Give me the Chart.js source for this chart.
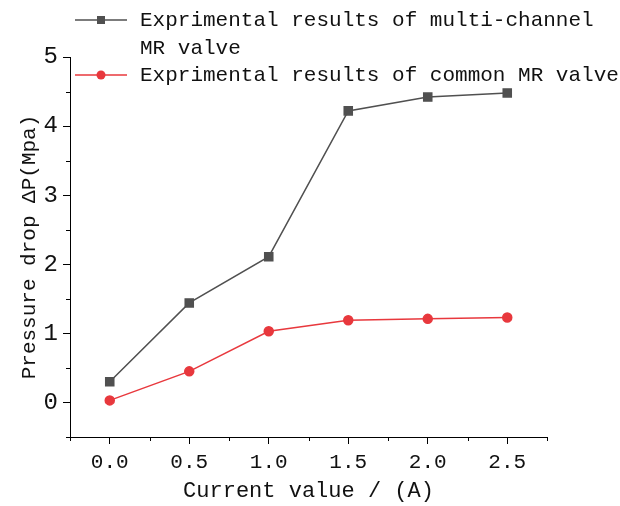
<!DOCTYPE html>
<html lang="en">
<head>
    <meta charset="UTF-8">
    <title>Pressure drop vs current</title>
    <script src="https://cdn.jsdelivr.net/npm/chart.js"></script>
    <style>
        body {
            margin: 0;
            padding: 0;
            background-color: #fff;
        }
        #wrap {
            width: 620px;
            height: 506px;
        }
    </style>
</head>
<body>
    <div id="wrap">
        <canvas id="pressure-chart" width="620" height="506"></canvas>
    </div>

    <script>
        // Measured values
        const currents = [0.0, 0.5, 1.0, 1.5, 2.0, 2.5];
        const multiChannel = [0.30, 1.44, 2.11, 4.22, 4.42, 4.48];
        const commonValve = [0.03, 0.45, 1.03, 1.19, 1.21, 1.23];
        const xTicks = [0.0, 0.5, 1.0, 1.5, 2.0, 2.5];
        const yTicks = [0, 1, 2, 3, 4, 5];
        const legendLabels = [
            ['Exprimental results of multi-channel', 'MR valve'],
            ['Exprimental results of common MR valve']
        ];

        const FONT = '"Liberation Mono", monospace';
        const GRAY = '#505050';
        const RED = '#e8383d';

        // minor ticks between the labelled ones, plus a hand-drawn legend
        const extras = {
            id: 'extras',
            afterDraw(chart) {
                const ctx = chart.ctx;
                const xs = chart.scales.x;
                const ys = chart.scales.y;
                ctx.save();
                ctx.strokeStyle = '#000';
                ctx.lineWidth = 1;
                ctx.beginPath();
                for (let v = -0.25; v <= 2.76; v += 0.5) {
                    const px = Math.round(xs.getPixelForValue(v)) + 0.5;
                    ctx.moveTo(px, ys.bottom);
                    ctx.lineTo(px, ys.bottom + 4);
                }
                for (let v = -0.5; v <= 4.6; v += 1) {
                    const py = Math.round(ys.getPixelForValue(v)) + 0.5;
                    ctx.moveTo(xs.left, py);
                    ctx.lineTo(xs.left - 4, py);
                }
                ctx.stroke();

                // legend
                const rows = [
                    { color: GRAY, style: 'rect', y: 20, lines: legendLabels[0] },
                    { color: RED, style: 'circle', y: 75, lines: legendLabels[1] }
                ];
                ctx.font = '21px ' + FONT;
                ctx.textBaseline = 'middle';
                ctx.textAlign = 'left';
                rows.forEach(r => {
                    ctx.strokeStyle = r.color;
                    ctx.lineWidth = 1.5;
                    ctx.beginPath();
                    ctx.moveTo(75, r.y);
                    ctx.lineTo(127, r.y);
                    ctx.stroke();
                    ctx.fillStyle = r.color;
                    if (r.style === 'rect') {
                        ctx.fillRect(97, r.y - 4, 8, 8);
                    } else {
                        ctx.beginPath();
                        ctx.arc(101, r.y, 4.5, 0, Math.PI * 2);
                        ctx.fill();
                    }
                    ctx.fillStyle = '#111';
                    r.lines.forEach((t, i) => ctx.fillText(t, 140, r.y + i * 28));
                });
                ctx.restore();
            }
        };

        const ctx = document.getElementById('pressure-chart').getContext('2d');
        new Chart(ctx, {
            type: 'line',
            data: {
                datasets: [{
                    label: legendLabels[0].join(' '),
                    data: currents.map((c, i) => ({ x: c, y: multiChannel[i] })),
                    borderColor: GRAY,
                    backgroundColor: GRAY,
                    borderWidth: 1.5,
                    pointStyle: 'rect',
                    pointRadius: 5.7,
                    tension: 0
                }, {
                    label: legendLabels[1][0],
                    data: currents.map((c, i) => ({ x: c, y: commonValve[i] })),
                    borderColor: RED,
                    backgroundColor: RED,
                    borderWidth: 1.5,
                    pointStyle: 'circle',
                    pointRadius: 4.5,
                    tension: 0
                }]
            },
            plugins: [extras],
            options: {
                responsive: false,
                animation: false,
                layout: { padding: { top: 57, right: 73, left: 0, bottom: 0 } },
                plugins: {
                    legend: { display: false },
                    tooltip: { enabled: false }
                },
                scales: {
                    x: {
                        type: 'linear',
                        min: -0.25,
                        max: 2.75,
                        afterBuildTicks: s => { s.ticks = xTicks.map(v => ({ value: v })); },
                        afterFit: s => { s.height = 69; },
                        grid: {
                            drawOnChartArea: false,
                            drawTicks: true,
                            tickLength: 7,
                            color: '#000'
                        },
                        border: { display: true, color: '#000', width: 1 },
                        ticks: {
                            color: '#111',
                            font: { family: FONT, size: 21 },
                            padding: 6,
                            maxRotation: 0,
                            callback: v => v.toFixed(1)
                        },
                        title: {
                            display: true,
                            text: 'Current value / (A)',
                            color: '#111',
                            font: { family: FONT, size: 22 },
                            padding: { top: 0, bottom: 2 }
                        }
                    },
                    y: {
                        min: -0.5,
                        max: 5,
                        afterBuildTicks: s => { s.ticks = yTicks.map(v => ({ value: v })); },
                        afterFit: s => { s.width = 70; },
                        grid: {
                            drawOnChartArea: false,
                            drawTicks: true,
                            tickLength: 7,
                            color: '#000'
                        },
                        border: { display: true, color: '#000', width: 1 },
                        ticks: {
                            color: '#111',
                            font: { family: FONT, size: 24 },
                            padding: 5
                        },
                        title: {
                            display: true,
                            text: 'Pressure drop ΔP(Mpa)',
                            color: '#111',
                            font: { family: FONT, size: 21 },
                            padding: { top: 17, bottom: 0 }
                        }
                    }
                }
            }
        });
    </script>
</body>
</html>
